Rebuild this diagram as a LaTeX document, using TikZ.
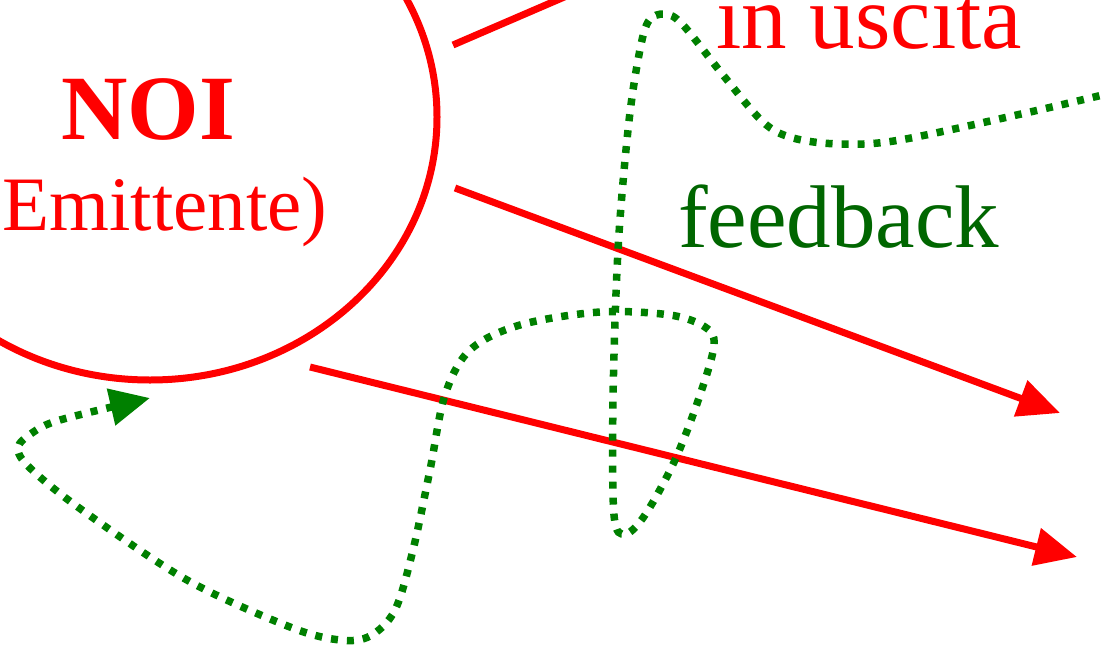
\documentclass[tikz,border=0pt]{standalone}
\usepackage{fontspec}
\setmainfont{Liberation Serif}
\usetikzlibrary{shapes.geometric,arrows.meta}
\definecolor{fbgreen}{RGB}{0,102,0}
\definecolor{dotgreen}{RGB}{0,128,0}
\tikzset{
  redline/.style={draw=red, line width=7pt, -{Triangle[length=42pt,width=37pt]}},
  redplain/.style={draw=red, line width=7pt},
  greendots/.style={draw=dotgreen, line width=7.5pt, dash pattern=on 7pt off 9pt, -{Triangle[length=40pt,width=36pt]}},
  bigtext/.style={text=red, font=\fontsize{90}{90}\selectfont, inner sep=0pt, anchor=base},
}
\begin{document}
\begin{tikzpicture}[x=1pt,y=-1pt]
\useasboundingbox (0,0) rectangle (1106,648);
\fill[white] (0,0) rectangle (1106,648);
\clip (0,0) rectangle (1106,648);
\node[draw=red, line width=7pt, ellipse, inner sep=0pt, minimum width=574pt, minimum height=526pt] (noi) at (150,117) {};
\node[bigtext, font=\fontsize{92}{92}\selectfont\bfseries] (noitext) at (148,139) {NOI};
\node[bigtext, font=\fontsize{77}{77}\selectfont] (emit) at (152,230) {(Emittente)};
\node[bigtext, anchor=base west, font=\fontsize{91}{91}\selectfont] (usc) at (716,48) {in uscita};
\node[bigtext, anchor=base west, text=fbgreen, font=\fontsize{89}{89}\selectfont] (fb) at (678,247) {feedback};
\coordinate (t0) at (453,45);
\coordinate (t1) at (620,-27);
\coordinate (a0) at (455,188);
\coordinate (a1) at (1060,413);
\coordinate (b0) at (310,367);
\coordinate (b1) at (1077,557);
\draw[redplain] (t0) -- (t1);
\draw[redline] (a0) -- (a1);
\draw[redline] (b0) -- (b1);
\draw[greendots] plot[smooth, tension=0.55] coordinates {
(1115,92) (1030,112) (900,140) (840,144) (793,138) (763,122) (723,75) (683,25) (665,14) (648,22) (638,60) (628,130) (618,250) (613,400) (614,515) (625,534) (645,515) (675,460) (700,395) (714,345) (705,327) (670,315) (600,312) (520,325) (470,350) (445,395) (430,470) (413,550) (395,610) (370,636) (340,640) (290,627) (187,580) (82,510) (30,468) (18,448) (32,433) (60,420) (150,398)};
\end{tikzpicture}
\end{document}
